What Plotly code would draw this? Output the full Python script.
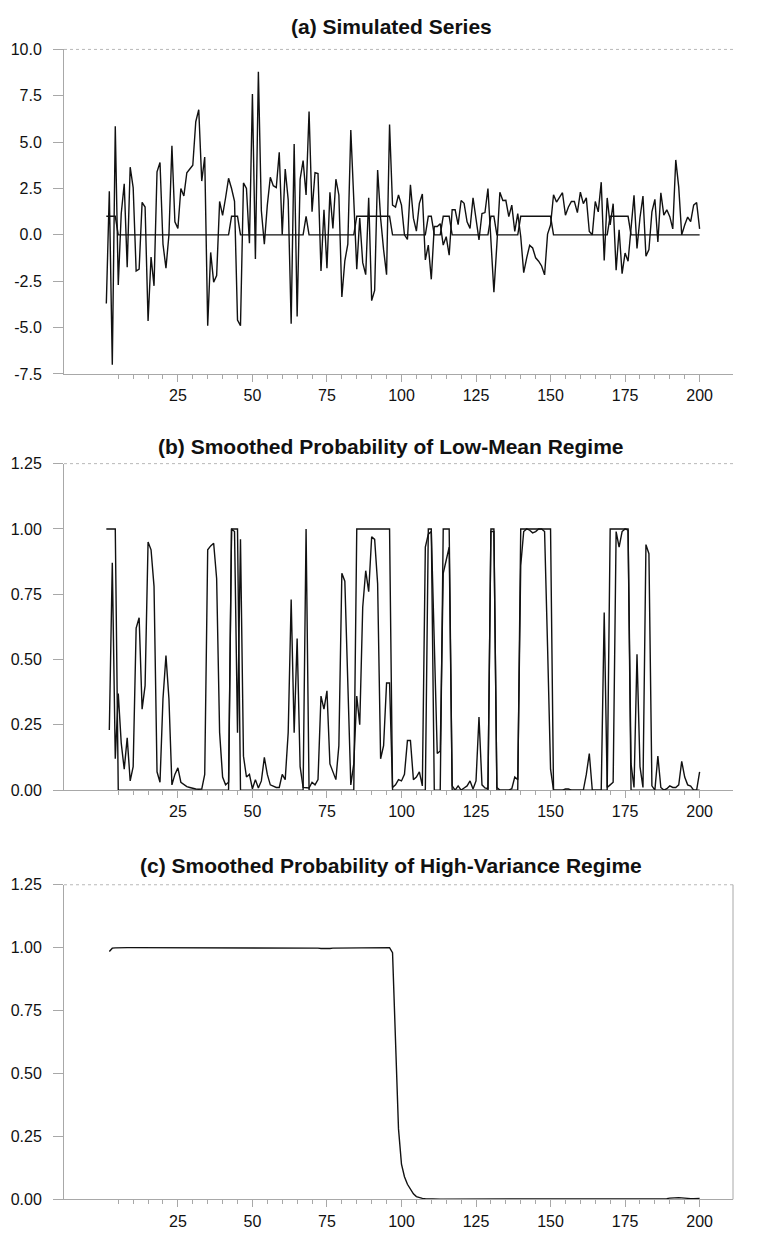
import plotly.graph_objects as go

# ---------------------------------------------------------------- data
t_obs = list(range(1, 201))
t_prob = list(range(2, 201))

simulated = [
    -3.7, 2.35, -7.0, 5.85, -2.7, 1.15, 2.75, -1.75, 3.65, 2.55,
    -1.95, -1.85, 1.75, 1.5, -4.65, -1.2, -2.75, 3.4, 3.9, -0.5,
    -1.8, 0.0, 4.8, 0.7, 0.35, 2.5, 2.1, 3.35, 3.55, 3.75,
    6.1, 6.75, 2.9, 4.2, -4.9, -0.95, -2.55, -2.2, 1.8, 1.05,
    2.0, 3.05, 2.5, 1.8, -4.6, -4.9, 2.8, 2.5, -0.45, 7.6,
    -1.3, 8.8, 1.3, -0.5, 1.6, 3.1, 2.65, 2.55, 4.45, 0.0,
    3.55, 1.9, -4.8, 4.9, -4.4, 3.0, 4.0, 2.15, 6.65, 1.25,
    3.35, 3.3, -1.95, 1.35, -1.8, 2.3, 0.35, 3.0, 2.15, -3.35,
    -1.4, -0.5, 5.65, 1.6, -1.85, 0.9, -1.5, -2.15, 2.0, -3.55,
    -3.0, 3.5, 0.9, -0.8, -2.15, 5.95, 1.6, 1.5, 2.15, 1.6,
    0.0, -0.25, 2.7, 0.9, 0.2, 1.7, 2.2, -1.35, -0.55, -2.4,
    0.45, 0.45, 0.6, -0.55, -0.1, -1.1, 1.35, 1.35, 0.55, 1.85,
    1.7, 0.7, 0.35, 2.0, 0.7, -0.27, 1.15, 1.2, 2.5, -0.3,
    -3.1, -0.5, 2.3, 1.85, 1.86, 0.98, 1.6, 0.18, 1.15, -0.09,
    -2.04, -1.24, -0.57, -0.71, -1.24, -1.42, -1.68, -2.16, 0.04, 0.53,
    2.16, 1.77, 2.04, 2.27, 1.06, 1.5, 1.8, 1.8, 1.2, 2.3,
    1.68, 1.99, 0.18, 0.0, 1.8, 1.24, 2.84, -1.38, 1.99, 0.53,
    1.68, -1.91, 0.27, -2.09, -0.98, -1.42, 0.35, 2.13, -0.74, 0.92,
    2.09, -1.15, -0.8, 1.24, 1.91, -0.39, 2.27, 1.06, 1.35, 0.98,
    0.32, 4.04, 2.57, 0.0, 0.53, 0.96, 0.71, 1.6, 1.74, 0.32,
]

# true regime indicator (1 = low-mean regime)
low_mean_state = [
    1, 1, 1, 1, 0, 0, 0, 0, 0, 0,
    0, 0, 0, 0, 0, 0, 0, 0, 0, 0,
    0, 0, 0, 0, 0, 0, 0, 0, 0, 0,
    0, 0, 0, 0, 0, 0, 0, 0, 0, 0,
    0, 0, 1, 1, 1, 0, 0, 0, 0, 0,
    0, 0, 0, 0, 0, 0, 0, 0, 0, 0,
    0, 0, 0, 0, 0, 0, 0, 1, 0, 0,
    0, 0, 0, 0, 0, 0, 0, 0, 0, 0,
    0, 0, 0, 0, 1, 1, 1, 1, 1, 1,
    1, 1, 1, 1, 1, 1, 0, 0, 0, 0,
    0, 0, 0, 0, 0, 0, 0, 0, 1, 1,
    0, 0, 0, 1, 1, 1, 0, 0, 0, 0,
    0, 0, 0, 0, 0, 0, 0, 0, 0, 1,
    1, 0, 0, 0, 0, 0, 0, 0, 0, 1,
    1, 1, 1, 1, 1, 1, 1, 1, 1, 1,
    0, 0, 0, 0, 0, 0, 0, 0, 0, 0,
    0, 0, 0, 0, 0, 0, 0, 0, 0, 1,
    1, 1, 1, 1, 1, 1, 0, 0, 0, 0,
    0, 0, 0, 0, 0, 0, 0, 0, 0, 0,
    0, 0, 0, 0, 0, 0, 0, 0, 0, 0,
]

# smoothed probabilities, t = 2..200
prob_low_mean = [
    0.23, 0.87, 0.12, 0.37, 0.18, 0.08, 0.20, 0.035, 0.09, 0.62,
    0.66, 0.31, 0.40, 0.95, 0.92, 0.78, 0.07, 0.03, 0.35, 0.515,
    0.35, 0.02, 0.06, 0.085, 0.03, 0.02, 0.013, 0.01, 0.006, 0.004,
    0.003, 0.004, 0.06, 0.92, 0.935, 0.945, 0.81, 0.22, 0.05, 0.02,
    0.03, 1.0, 0.99, 0.22, 0.96, 0.13, 0.05, 0.06, 0.005, 0.04,
    0.008, 0.035, 0.125, 0.06, 0.02, 0.015, 0.01, 0.01, 0.06, 0.04,
    0.22, 0.73, 0.22, 0.58, 0.09, 0.01, 0.01, 0.008, 0.03, 0.02,
    0.04, 0.36, 0.31, 0.38, 0.10, 0.07, 0.04, 0.17, 0.83, 0.80,
    0.41, 0.02, 0.10, 0.36, 0.25, 0.70, 0.84, 0.76, 0.97, 0.96,
    0.79, 0.12, 0.17, 0.41, 0.41, 0.01, 0.02, 0.04, 0.035, 0.06,
    0.19, 0.19, 0.04, 0.05, 0.07, 0.016, 0.93, 0.98, 0.99, 0.6,
    0.14, 0.15, 0.83, 0.88, 0.93, 0.016, 0.0, 0.016, 0.0, 0.008,
    0.016, 0.035, 0.004, 0.035, 0.28, 0.02, 0.008, 0.005, 0.99, 0.99,
    0.01, 0.0, 0.0, 0.0, 0.0, 0.005, 0.05, 0.04, 0.86, 0.99,
    1.0, 0.995, 0.985, 0.99, 1.0, 1.0, 0.99, 0.55, 0.08, 0.0,
    0.0, 0.0, 0.0, 0.004, 0.004, 0.0, 0.0, 0.0, 0.0, 0.0,
    0.06, 0.14, 0.0, 0.0, 0.0, 0.0, 0.68, 0.01, 0.02, 0.03,
    0.99, 0.93, 0.99, 1.0, 0.995, 0.10, 0.01, 0.52, 0.09, 0.01,
    0.94, 0.905, 0.016, 0.0, 0.13, 0.01, 0.0, 0.005, 0.016, 0.01,
    0.01, 0.02, 0.11, 0.05, 0.02, 0.015, 0.0, 0.0, 0.07,
]

prob_high_var = [
    0.985, 0.998, 0.999, 1.0, 1.0, 1.0, 1.0, 1.0, 1.0, 1.0,
    1.0, 1.0, 1.0, 1.0, 1.0, 1.0, 1.0, 1.0, 1.0, 1.0,
    1.0, 1.0, 1.0, 1.0, 1.0, 1.0, 1.0, 1.0, 1.0, 1.0,
    1.0, 1.0, 1.0, 1.0, 1.0, 1.0, 1.0, 1.0, 1.0, 1.0,
    1.0, 1.0, 1.0, 1.0, 1.0, 1.0, 1.0, 1.0, 1.0, 1.0,
    1.0, 1.0, 1.0, 1.0, 1.0, 1.0, 1.0, 1.0, 1.0, 1.0,
    1.0, 1.0, 1.0, 1.0, 1.0, 1.0, 1.0, 1.0, 1.0, 0.999,
    0.998, 0.997, 0.996, 0.996, 0.997, 0.998, 0.998, 0.999, 0.999, 1.0,
    1.0, 1.0, 1.0, 1.0, 1.0, 1.0, 1.0, 1.0, 1.0, 1.0,
    1.0, 1.0, 1.0, 1.0, 1.0, 0.98, 0.62, 0.28, 0.14, 0.09,
    0.06, 0.04, 0.022, 0.011, 0.006, 0.004, 0.003, 0.002, 0.002, 0.001,
    0.001, 0.001, 0.001, 0.001, 0.001, 0.001, 0.001, 0.001, 0.001, 0.001,
    0.001, 0.001, 0.001, 0.001, 0.001, 0.001, 0.001, 0.001, 0.001, 0.001,
    0.001, 0.001, 0.001, 0.001, 0.001, 0.001, 0.001, 0.001, 0.001, 0.001,
    0.001, 0.001, 0.001, 0.001, 0.001, 0.001, 0.001, 0.001, 0.001, 0.001,
    0.001, 0.001, 0.001, 0.001, 0.001, 0.001, 0.001, 0.001, 0.001, 0.001,
    0.001, 0.001, 0.001, 0.001, 0.001, 0.001, 0.001, 0.001, 0.001, 0.001,
    0.001, 0.001, 0.001, 0.001, 0.001, 0.001, 0.001, 0.001, 0.001, 0.001,
    0.001, 0.001, 0.001, 0.001, 0.001, 0.001, 0.002, 0.003, 0.005, 0.006,
    0.007, 0.007, 0.006, 0.004, 0.003, 0.003, 0.003, 0.003, 0.004,
]

x_major_ticks = [25, 50, 75, 100, 125, 150, 175, 200]
x_minor_ticks = list(range(5, 201, 5))
y_ticks_series = [-7.5, -5.0, -2.5, 0.0, 2.5, 5.0, 7.5, 10.0]
y_ticks_prob = [0.0, 0.25, 0.50, 0.75, 1.00, 1.25]

titles = [
    "(a) Simulated Series",
    "(b) Smoothed Probability of Low-Mean Regime",
    "(c) Smoothed Probability of High-Variance Regime",
]

# ---------------------------------------------------------------- layout helpers
W, H = 766, 1234
FONT = "Liberation Sans, Arial, Helvetica, sans-serif"
AXIS_GREY = "#a8a8a8"
LINE = dict(color="#111111", width=1.4)

PLOT_LEFT, PLOT_RIGHT = 64, 733          # pixel extent of every panel
X_RANGE = [-13.2, 211.2]
panels = [                                 # (top px, bottom px, title y px)
    (42, 371, 19),
    (462, 793, 445),
    (889, 1208, 869),
]


def px_x(p):
    return p / W


def px_y(p):
    return 1 - p / H


fig = go.Figure()

fig.add_trace(go.Scatter(x=t_obs, y=simulated, mode="lines", line=LINE,
                         xaxis="x", yaxis="y", hoverinfo="skip"))
fig.add_trace(go.Scatter(x=t_obs, y=low_mean_state, mode="lines", line=LINE,
                         xaxis="x", yaxis="y", hoverinfo="skip"))
fig.add_trace(go.Scatter(x=t_obs, y=low_mean_state, mode="lines", line=LINE,
                         xaxis="x2", yaxis="y2", hoverinfo="skip"))
fig.add_trace(go.Scatter(x=t_prob, y=prob_low_mean, mode="lines", line=LINE,
                         xaxis="x2", yaxis="y2", hoverinfo="skip"))
fig.add_trace(go.Scatter(x=t_prob, y=prob_high_var, mode="lines", line=LINE,
                         xaxis="x3", yaxis="y3", hoverinfo="skip"))

tick_font = dict(family=FONT, size=16, color="#111111")

layout = dict(
    width=W, height=H,
    margin=dict(l=0, r=0, t=0, b=0),
    paper_bgcolor="white", plot_bgcolor="white",
    showlegend=False,
    font=dict(family=FONT),
)

y_setups = [
    (y_ticks_series, [f"{v:.1f}" for v in y_ticks_series], [-7.5, 10.0]),
    (y_ticks_prob, [f"{v:.2f}" for v in y_ticks_prob], [0.0, 1.25]),
    (y_ticks_prob, [f"{v:.2f}" for v in y_ticks_prob], [0.0, 1.25]),
]

shapes = []
annotations = []
for i, ((top, bottom, title_y), (yt, ytt, yr)) in enumerate(zip(panels, y_setups)):
    sfx = "" if i == 0 else str(i + 1)
    layout["xaxis" + sfx] = dict(
        domain=[px_x(PLOT_LEFT), px_x(PLOT_RIGHT)],
        anchor="y" + sfx,
        range=X_RANGE,
        showgrid=False, zeroline=False,
        showline=True, linecolor=AXIS_GREY, linewidth=1,
        ticks="outside", ticklen=7, tickcolor=AXIS_GREY, tickwidth=1,
        tickmode="array", tickvals=x_major_ticks,
        ticktext=[str(v) for v in x_major_ticks],
        tickfont=tick_font,
        minor=dict(tickmode="array", tickvals=x_minor_ticks, ticks="outside",
                   ticklen=4, tickcolor=AXIS_GREY, tickwidth=1, showgrid=False),
    )
    layout["yaxis" + sfx] = dict(
        domain=[px_y(bottom), px_y(top)],
        anchor="x" + sfx,
        range=yr,
        showgrid=False, zeroline=False,
        showline=True, linecolor=AXIS_GREY, linewidth=1,
        ticks="outside", ticklen=10, tickcolor=AXIS_GREY, tickwidth=1,
        tickmode="array", tickvals=yt, ticktext=ytt,
        tickfont=tick_font, ticklabelstandoff=8,
    )
    # dotted frame line along the top of each panel
    shapes.append(dict(type="line", xref="paper", yref="paper",
                       x0=px_x(PLOT_LEFT), x1=px_x(PLOT_RIGHT),
                       y0=px_y(top), y1=px_y(top),
                       line=dict(color="#b8b8b8", width=1, dash="dot")))
    annotations.append(dict(text=f"<b>{titles[i]}</b>", xref="paper", yref="paper",
                            x=px_x(391), y=px_y(title_y), xanchor="center",
                            yanchor="middle", showarrow=False,
                            font=dict(family=FONT, size=21, color="#111111")))

# the last panel is closed on the right
top_c, bottom_c, _ = panels[2]
shapes.append(dict(type="line", xref="paper", yref="paper",
                   x0=px_x(PLOT_RIGHT), x1=px_x(PLOT_RIGHT),
                   y0=px_y(bottom_c), y1=px_y(top_c),
                   line=dict(color=AXIS_GREY, width=1)))

layout["shapes"] = shapes
layout["annotations"] = annotations
fig.update_layout(**layout)

fig.write_html("out.html")
